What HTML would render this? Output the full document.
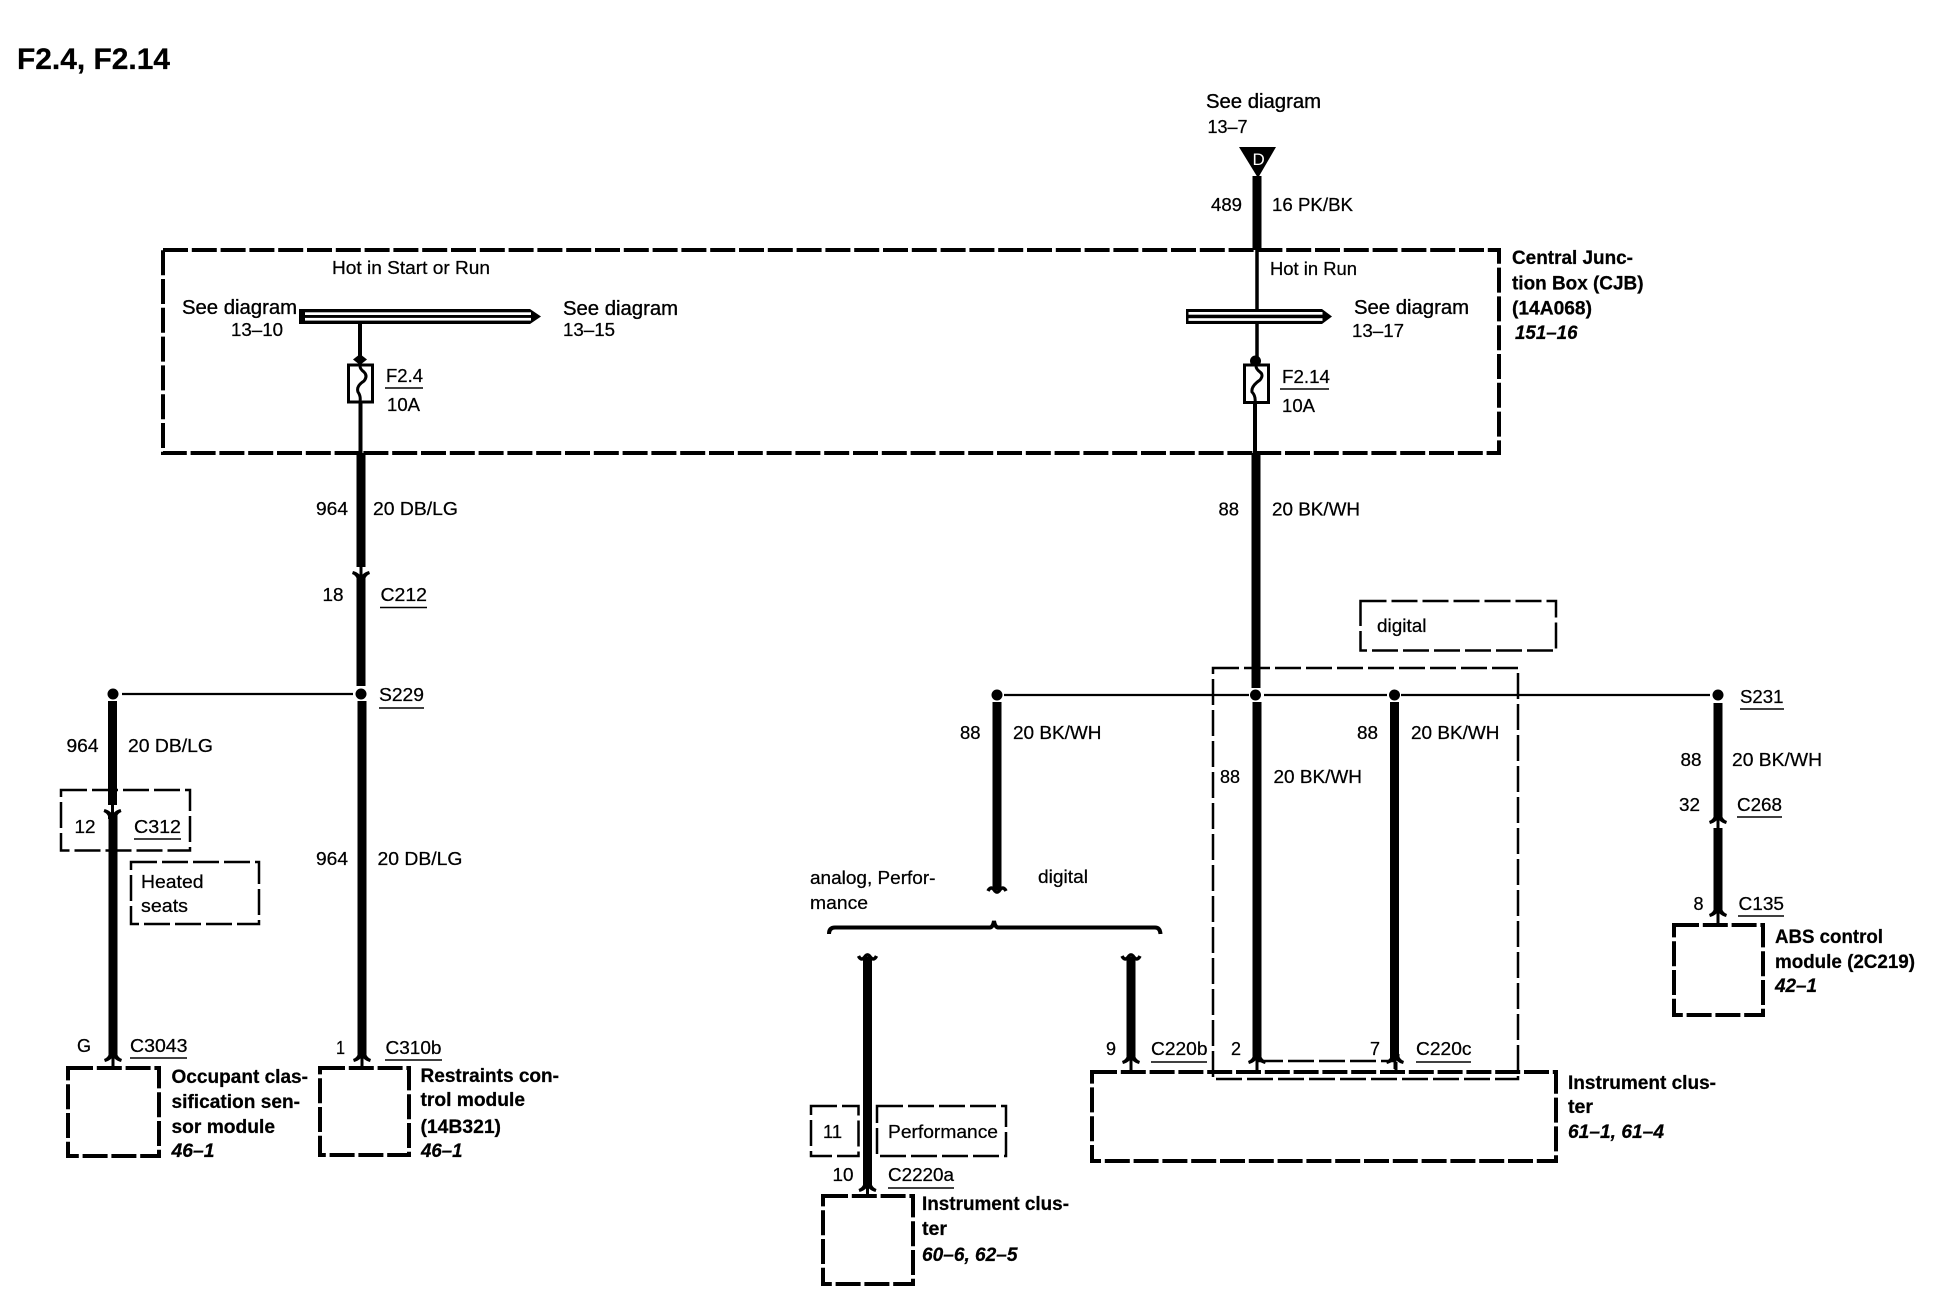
<!DOCTYPE html>
<html><head><meta charset="utf-8"><style>
html,body{margin:0;padding:0;background:#fff}
svg{display:block}
text{font-family:"Liberation Sans",sans-serif;fill:#000;stroke:#000;stroke-width:.25}
.r{font-size:18.5px}
.s{font-size:20px;stroke-width:.35}
.b{font-size:19px;font-weight:bold}
.i{font-size:19px;font-weight:bold;font-style:italic}
.t{font-size:30px;font-weight:bold}
.h{fill:none;stroke:#000;stroke-width:4;stroke-dasharray:25 3.8}
.n{fill:none;stroke:#000;stroke-width:2.5;stroke-dasharray:26 5}
.w{stroke:#000;stroke-width:9;fill:none}
.f{stroke:#000;stroke-width:4;fill:none}
.u{stroke:#000;stroke-width:1.5}
.l{stroke:#000;stroke-width:2.2}
.st{stroke:#000;stroke-width:3}
</style></head><body>
<svg xmlns="http://www.w3.org/2000/svg" width="1934" height="1312" viewBox="0 0 1934 1312">
<defs>
<path id="a" d="M-4.5,-6L-4.5,-3Q-6,0 -9,1L-8,4Q-4,3 -1.5,.5L-1.5,9L1.5,9L1.5,.5Q4,3 8,4L9,1Q6,0 4.5,-3L4.5,-6Z" fill="#000"/>
<path id="fb" d="M-9,3Q-6,-3 -2,3Q0,5 2,3Q6,-3 9,3" fill="none" stroke="#000" stroke-width="3.5"/>
<path id="ft" d="M-9,-3Q-6,3 -2,-3Q0,-5 2,-3Q6,3 9,-3" fill="none" stroke="#000" stroke-width="3.5"/>
</defs>
<rect width="1934" height="1312" fill="#fff"/>

<text class="t" x="17" y="69" textLength="153" lengthAdjust="spacingAndGlyphs">F2.4, F2.14</text>

<!-- CJB -->
<rect class="h" x="163" y="250" width="1336" height="203"/>
<path d="M1239,147H1276L1258,178Z" fill="#000"/>
<text x="1252.5" y="165" style="font-size:17px;fill:#fff;stroke:none">D</text>
<line class="w" x1="1257" y1="176" x2="1257" y2="250"/>
<line x1="1257" y1="250" x2="1257" y2="364" stroke="#000" stroke-width="3.5"/>
<line class="f" x1="1255" y1="403" x2="1255" y2="453"/>
<line class="f" x1="360" y1="324" x2="360" y2="364"/>
<line class="f" x1="360.5" y1="402" x2="360.5" y2="453"/>

<!-- buses -->
<path d="M299,309H530L541,316.5L530,324H299Z" fill="#000"/>
<rect x="305" y="312.3" width="226" height="2.7" fill="#fff"/>
<rect x="305" y="317.9" width="226" height="2.7" fill="#fff"/>
<path d="M1186,309H1322L1332,316.5L1322,324H1186Z" fill="#000"/>
<rect x="1188.5" y="312" width="134" height="2.7" fill="#fff"/>
<rect x="1188.5" y="318.2" width="134" height="2.7" fill="#fff"/>

<!-- fuses -->
<rect x="348.5" y="365" width="24" height="37" fill="#fff" stroke="#000" stroke-width="3"/>
<path d="M360,366Q360,369 364,372Q368,376 364,381Q356,386 358,392Q361,396 360,402" fill="none" stroke="#000" stroke-width="3"/>
<path d="M353,359.5L360,354L367,359.5L360,365Z" fill="#000"/>
<rect x="1244.5" y="365" width="24" height="37.5" fill="#fff" stroke="#000" stroke-width="3"/>
<path d="M1256,366Q1256,369 1260,372Q1264,375 1260,380Q1251,386 1252,392Q1256,396 1255,403" fill="none" stroke="#000" stroke-width="3"/>
<circle cx="1255.5" cy="361" r="5.5" fill="#000"/>

<text class="s" x="182" y="314" textLength="115" lengthAdjust="spacingAndGlyphs">See diagram</text>
<text class="r" x="231" y="336" textLength="52" lengthAdjust="spacingAndGlyphs">13–10</text>
<text class="r" x="332" y="274" textLength="158" lengthAdjust="spacingAndGlyphs">Hot in Start or Run</text>
<text class="s" x="563" y="315" textLength="115" lengthAdjust="spacingAndGlyphs">See diagram</text>
<text class="r" x="563" y="336" textLength="52" lengthAdjust="spacingAndGlyphs">13–15</text>
<text class="r" x="386" y="382" textLength="37" lengthAdjust="spacingAndGlyphs">F2.4</text>
<line class="u" x1="385" y1="388" x2="423" y2="388"/>
<text class="r" x="387" y="411" textLength="33" lengthAdjust="spacingAndGlyphs">10A</text>

<text class="s" x="1206" y="108" textLength="115" lengthAdjust="spacingAndGlyphs">See diagram</text>
<text class="r" x="1207.5" y="133" textLength="40" lengthAdjust="spacingAndGlyphs">13–7</text>
<text class="r" x="1211" y="211" textLength="31" lengthAdjust="spacingAndGlyphs">489</text>
<text class="r" x="1272" y="211" textLength="81" lengthAdjust="spacingAndGlyphs">16 PK/BK</text>
<text class="r" x="1270" y="275" textLength="87" lengthAdjust="spacingAndGlyphs">Hot in Run</text>
<text class="s" x="1354" y="314" textLength="115" lengthAdjust="spacingAndGlyphs">See diagram</text>
<text class="r" x="1352" y="337" textLength="52" lengthAdjust="spacingAndGlyphs">13–17</text>
<text class="r" x="1282" y="383" textLength="48" lengthAdjust="spacingAndGlyphs">F2.14</text>
<line class="u" x1="1280" y1="389" x2="1329" y2="389"/>
<text class="r" x="1282" y="412" textLength="33" lengthAdjust="spacingAndGlyphs">10A</text>
<text class="b" x="1512" y="264" textLength="121" lengthAdjust="spacingAndGlyphs">Central Junc-</text>
<text class="b" x="1512" y="289.5" textLength="131.5" lengthAdjust="spacingAndGlyphs">tion Box (CJB)</text>
<text class="b" x="1512" y="314.5" textLength="80" lengthAdjust="spacingAndGlyphs">(14A068)</text>
<text class="i" x="1515" y="339" textLength="62.5" lengthAdjust="spacingAndGlyphs">151–16</text>

<!-- left wires -->
<line class="w" x1="361" y1="453" x2="361" y2="567"/>
<use href="#a" transform="translate(361,575) scale(1,-1)"/>
<line class="w" x1="361" y1="575" x2="361" y2="686"/>
<line class="w" x1="362" y1="701" x2="362" y2="1056"/>
<circle cx="361" cy="694" r="5.5" fill="#000"/>
<line class="l" x1="122" y1="694" x2="353" y2="694"/>
<circle cx="113" cy="694" r="5.5" fill="#000"/>
<line class="w" x1="112.5" y1="701" x2="112.5" y2="805"/>
<use href="#a" transform="translate(112.5,813) scale(1,-1)"/>
<line class="w" x1="113" y1="813" x2="113" y2="1056"/>
<use href="#a" x="113" y="1058"/>
<line class="st" x1="113" y1="1060" x2="113" y2="1068"/>
<use href="#a" x="362" y="1058"/>
<line class="st" x1="362" y1="1060" x2="362" y2="1068"/>
<text class="r" x="316" y="515" textLength="32" lengthAdjust="spacingAndGlyphs">964</text>
<text class="r" x="373" y="515" textLength="85" lengthAdjust="spacingAndGlyphs">20 DB/LG</text>
<text class="r" x="322.5" y="601" textLength="21" lengthAdjust="spacingAndGlyphs">18</text>
<text class="r" x="380.5" y="601" textLength="46.5" lengthAdjust="spacingAndGlyphs">C212</text>
<line class="u" x1="380" y1="607.5" x2="427" y2="607.5"/>
<text class="r" x="379" y="701" textLength="45" lengthAdjust="spacingAndGlyphs">S229</text>
<line class="u" x1="379" y1="708" x2="424" y2="708"/>
<text class="r" x="66.5" y="752" textLength="32" lengthAdjust="spacingAndGlyphs">964</text>
<text class="r" x="128" y="752" textLength="85" lengthAdjust="spacingAndGlyphs">20 DB/LG</text>
<rect class="n" x="61" y="790" width="129" height="60.5"/>
<text class="r" x="74.5" y="833" textLength="21" lengthAdjust="spacingAndGlyphs">12</text>
<text class="r" x="134" y="833" textLength="47" lengthAdjust="spacingAndGlyphs">C312</text>
<line class="u" x1="134" y1="839" x2="181" y2="839"/>
<rect class="n" x="131" y="862" width="128" height="62"/>
<text class="r" x="141" y="888" textLength="62.5" lengthAdjust="spacingAndGlyphs">Heated</text>
<text class="r" x="141" y="912" textLength="47" lengthAdjust="spacingAndGlyphs">seats</text>
<text class="r" x="316" y="865" textLength="32" lengthAdjust="spacingAndGlyphs">964</text>
<text class="r" x="377.5" y="865" textLength="85" lengthAdjust="spacingAndGlyphs">20 DB/LG</text>
<text class="r" x="77" y="1052" textLength="14" lengthAdjust="spacingAndGlyphs">G</text>
<text class="r" x="130" y="1052" textLength="57.5" lengthAdjust="spacingAndGlyphs">C3043</text>
<line class="u" x1="130" y1="1058" x2="187" y2="1058"/>
<text class="r" x="336" y="1054" textLength="9" lengthAdjust="spacingAndGlyphs">1</text>
<text class="r" x="385.5" y="1054" textLength="56" lengthAdjust="spacingAndGlyphs">C310b</text>
<line class="u" x1="385" y1="1060" x2="442" y2="1060"/>
<rect class="h" x="68" y="1068" width="91" height="88"/>
<rect class="h" x="320" y="1068" width="89" height="87"/>
<text class="b" x="171.5" y="1083" textLength="136.5" lengthAdjust="spacingAndGlyphs">Occupant clas-</text>
<text class="b" x="171.5" y="1108" textLength="128.5" lengthAdjust="spacingAndGlyphs">sification sen-</text>
<text class="b" x="171.5" y="1133" textLength="103.5" lengthAdjust="spacingAndGlyphs">sor module</text>
<text class="i" x="171.5" y="1157" textLength="43" lengthAdjust="spacingAndGlyphs">46–1</text>
<text class="b" x="420.5" y="1082" textLength="138.5" lengthAdjust="spacingAndGlyphs">Restraints con-</text>
<text class="b" x="420.5" y="1106" textLength="104.5" lengthAdjust="spacingAndGlyphs">trol module</text>
<text class="b" x="420.5" y="1133" textLength="80.5" lengthAdjust="spacingAndGlyphs">(14B321)</text>
<text class="i" x="421" y="1157" textLength="41.5" lengthAdjust="spacingAndGlyphs">46–1</text>

<!-- S231 area -->
<line class="l" x1="1004" y1="695" x2="1249" y2="695"/>
<line class="l" x1="1264" y1="695" x2="1387" y2="695"/>
<line class="l" x1="1401" y1="695" x2="1710" y2="695"/>
<rect class="n" x="1360.5" y="601" width="195.5" height="49.5"/>
<text class="r" x="1377" y="632" textLength="49.5" lengthAdjust="spacingAndGlyphs">digital</text>
<line class="w" x1="1256" y1="453" x2="1256" y2="688"/>
<line class="w" x1="1257" y1="702" x2="1257" y2="1058"/>
<line class="w" x1="1394.5" y1="702" x2="1394.5" y2="1058"/>
<line class="w" x1="997" y1="702" x2="997" y2="890"/>
<line class="w" x1="1718" y1="703" x2="1718" y2="819"/>
<line class="w" x1="1718" y1="828" x2="1718" y2="911"/>
<circle cx="997" cy="695" r="5.5" fill="#000"/>
<circle cx="1255.5" cy="695" r="5.5" fill="#000"/>
<circle cx="1394.5" cy="695" r="5.5" fill="#000"/>
<circle cx="1718" cy="695" r="5.5" fill="#000"/>
<rect class="n" x="1213" y="668" width="305" height="411"/>
<line x1="1257" y1="1061" x2="1394" y2="1061" class="n"/>
<use href="#fb" x="997" y="888"/>
<use href="#a" x="1257" y="1060"/>
<use href="#a" x="1395" y="1060"/>
<line class="st" x1="1257" y1="1062" x2="1257" y2="1072"/>
<line class="st" x1="1396" y1="1062" x2="1396" y2="1072"/>
<use href="#a" x="1718" y="820"/>
<use href="#a" x="1718" y="913"/>
<line class="st" x1="1718" y1="915" x2="1718" y2="925"/>
<text class="r" x="960" y="739" textLength="20.5" lengthAdjust="spacingAndGlyphs">88</text>
<text class="r" x="1013" y="739" textLength="88.5" lengthAdjust="spacingAndGlyphs">20 BK/WH</text>
<text class="r" x="1220" y="783" textLength="20" lengthAdjust="spacingAndGlyphs">88</text>
<text class="r" x="1273.5" y="783" textLength="88.5" lengthAdjust="spacingAndGlyphs">20 BK/WH</text>
<text class="r" x="1357" y="739" textLength="21" lengthAdjust="spacingAndGlyphs">88</text>
<text class="r" x="1411" y="739" textLength="88.5" lengthAdjust="spacingAndGlyphs">20 BK/WH</text>
<text class="r" x="1218.5" y="515.5" textLength="20.5" lengthAdjust="spacingAndGlyphs">88</text>
<text class="r" x="1272" y="515.5" textLength="88" lengthAdjust="spacingAndGlyphs">20 BK/WH</text>
<text class="r" x="1680.5" y="766" textLength="21" lengthAdjust="spacingAndGlyphs">88</text>
<text class="r" x="1732" y="766" textLength="90" lengthAdjust="spacingAndGlyphs">20 BK/WH</text>
<text class="r" x="1679" y="811" textLength="21" lengthAdjust="spacingAndGlyphs">32</text>
<text class="r" x="1737" y="811" textLength="45" lengthAdjust="spacingAndGlyphs">C268</text>
<line class="u" x1="1737" y1="817" x2="1782" y2="817"/>
<text class="r" x="1740" y="703" textLength="43.5" lengthAdjust="spacingAndGlyphs">S231</text>
<line class="u" x1="1740" y1="709" x2="1784" y2="709"/>
<text class="r" x="1693.5" y="910" textLength="10" lengthAdjust="spacingAndGlyphs">8</text>
<text class="r" x="1738.5" y="910" textLength="45.5" lengthAdjust="spacingAndGlyphs">C135</text>
<line class="u" x1="1738" y1="916" x2="1784" y2="916"/>
<rect class="h" x="1674" y="925" width="89" height="90"/>
<text class="b" x="1775" y="943" textLength="108" lengthAdjust="spacingAndGlyphs">ABS control</text>
<text class="b" x="1775" y="968" textLength="140" lengthAdjust="spacingAndGlyphs">module (2C219)</text>
<text class="i" x="1775" y="992" textLength="42" lengthAdjust="spacingAndGlyphs">42–1</text>

<!-- bracket -->
<path d="M829,934Q829,927.5 835,927.5H990Q993,927 994,921Q995,927 998,927.5H1155Q1160,927.5 1160.5,934" fill="none" stroke="#000" stroke-width="4"/>
<text class="r" x="810" y="884" textLength="125.5" lengthAdjust="spacingAndGlyphs">analog, Perfor-</text>
<text class="r" x="810" y="909" textLength="58" lengthAdjust="spacingAndGlyphs">mance</text>
<text class="r" x="1038" y="883" textLength="50" lengthAdjust="spacingAndGlyphs">digital</text>

<line class="w" x1="867.5" y1="957" x2="867.5" y2="1186"/>
<use href="#ft" x="867.5" y="959"/>
<use href="#a" x="867.5" y="1188"/>
<line class="st" x1="867.5" y1="1190" x2="867.5" y2="1196"/>
<line class="w" x1="1131" y1="957" x2="1131" y2="1058"/>
<use href="#ft" x="1131" y="959"/>
<use href="#a" x="1131" y="1060"/>
<line class="st" x1="1131" y1="1062" x2="1131" y2="1072"/>
<rect class="n" x="811" y="1106" width="47.5" height="50"/>
<rect class="n" x="877" y="1106" width="129" height="50"/>
<text class="r" x="823" y="1138" textLength="19" lengthAdjust="spacingAndGlyphs">11</text>
<text class="r" x="888" y="1138" textLength="110" lengthAdjust="spacingAndGlyphs">Performance</text>
<text class="r" x="832.5" y="1181" textLength="21" lengthAdjust="spacingAndGlyphs">10</text>
<text class="r" x="888" y="1181" textLength="66" lengthAdjust="spacingAndGlyphs">C2220a</text>
<line class="u" x1="888" y1="1188" x2="954" y2="1188"/>
<rect class="h" x="823" y="1196" width="90" height="88"/>
<text class="b" x="922" y="1210" textLength="147" lengthAdjust="spacingAndGlyphs">Instrument clus-</text>
<text class="b" x="922" y="1235" textLength="25" lengthAdjust="spacingAndGlyphs">ter</text>
<text class="i" x="922" y="1261" textLength="95.5" lengthAdjust="spacingAndGlyphs">60–6, 62–5</text>

<!-- cluster -->
<rect class="h" x="1092" y="1072" width="464" height="89"/>
<text class="r" x="1106" y="1055" textLength="10" lengthAdjust="spacingAndGlyphs">9</text>
<text class="r" x="1151" y="1055" textLength="56.5" lengthAdjust="spacingAndGlyphs">C220b</text>
<line class="u" x1="1151" y1="1062" x2="1207" y2="1062"/>
<text class="r" x="1231" y="1055" textLength="10" lengthAdjust="spacingAndGlyphs">2</text>
<text class="r" x="1370" y="1055" textLength="10" lengthAdjust="spacingAndGlyphs">7</text>
<text class="r" x="1416" y="1055" textLength="55.5" lengthAdjust="spacingAndGlyphs">C220c</text>
<line class="u" x1="1416" y1="1062" x2="1471" y2="1062"/>
<text class="b" x="1568" y="1089" textLength="148" lengthAdjust="spacingAndGlyphs">Instrument clus-</text>
<text class="b" x="1568" y="1113" textLength="25" lengthAdjust="spacingAndGlyphs">ter</text>
<text class="i" x="1568" y="1138" textLength="96" lengthAdjust="spacingAndGlyphs">61–1, 61–4</text>
</svg>
</body></html>
